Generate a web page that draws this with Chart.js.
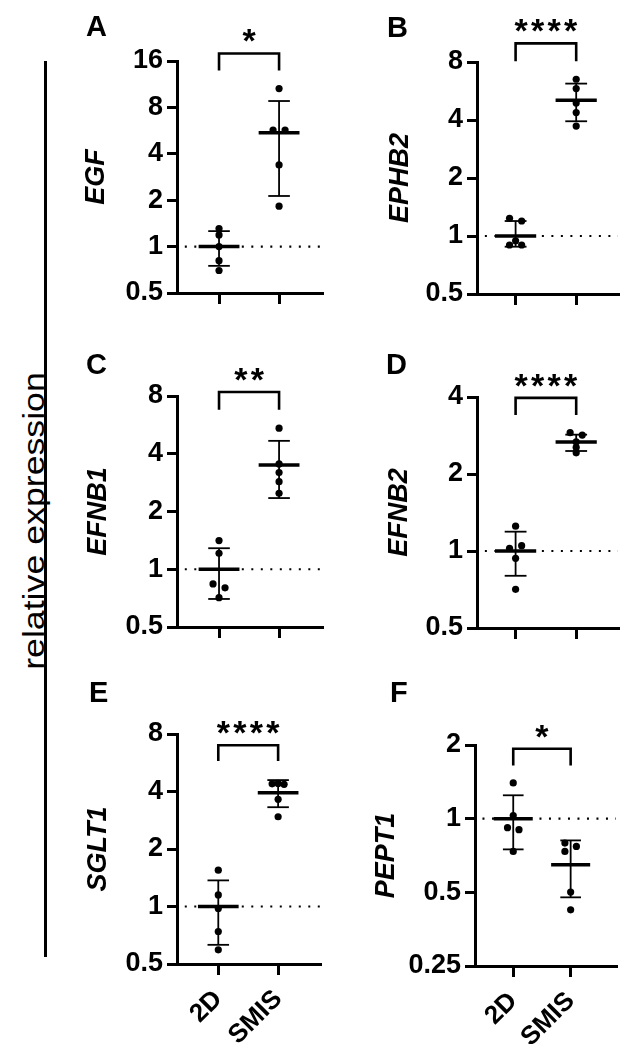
<!DOCTYPE html>
<html>
<head>
<meta charset="utf-8">
<title>relative expression</title>
<script src="https://cdn.jsdelivr.net/npm/chart.js@4.4.1/dist/chart.umd.min.js"></script>
<style>
  body { margin: 0; background: #fff; }
  #page { position: relative; width: 620px; height: 1044px; overflow: hidden; background: #fff; }
  canvas { position: absolute; }
  .letter { position: absolute; font: bold 29px "Liberation Sans", Arial, sans-serif; line-height: 29px; color: #000; }
  #bigline { position: absolute; left: 43.5px; top: 61px; width: 3px; height: 896px; background: #000; }
  #ylabel { position: absolute; left: -168px; top: 506px; width: 400px; height: 30px; line-height: 30px;
            text-align: center; font: 30px "Liberation Sans", Arial, sans-serif; color: #000;
            transform: rotate(-90deg) scaleX(1.19); }
</style>
</head>
<body>
<div id="page">
  <div id="bigline"></div>
  <div id="ylabel">relative expression</div>
  <canvas id="cA"></canvas>
  <canvas id="cB"></canvas>
  <canvas id="cC"></canvas>
  <canvas id="cD"></canvas>
  <canvas id="cE"></canvas>
  <canvas id="cF"></canvas>
</div>
<script>
const FONT = '"Liberation Sans", Arial, sans-serif';
Chart.defaults.font.family = FONT;
Chart.defaults.color = '#000';

// groups on the x axis
const groups = ['2D', 'SMIS'];

// ---- A: EGF ----
const egf2D = [1.31, 1.19, 1.00, 0.81, 0.70];
const egfSMIS = [10.6, 5.7, 5.7, 3.39, 1.83];
const egfJitter = [[0, 0, 0, 0, 0], [0, -1, 1, 0, 0]];
const egfMean = [1.0, 5.47];
const egfLow = [0.75, 2.13];
const egfHigh = [1.26, 8.8];
const egfTicks = [0.5, 1, 2, 4, 8, 16];
const egfBracket = [13.9, 17.9];

// ---- B: EPHB2 ----
const ephb2D = [1.235, 1.196, 0.945, 0.898, 0.898];
const ephbSMIS = [6.51, 5.82, 4.90, 4.37, 3.72];
const ephbJitter = [[-1, 1, 0, -1, 1], [0, 0, 0, 0, 0]];
const ephbMean = [1.0, 5.07];
const ephbLow = [0.88, 3.94];
const ephbHigh = [1.196, 6.18];
const ephbTicks = [0.5, 1, 2, 4, 8];
const ephbBracket = [8.07, 10.0];

// ---- C: EFNB1 ----
const efnb1_2D = [1.41, 1.21, 0.838, 0.80, 0.711];
const efnb1SMIS = [5.44, 3.54, 3.19, 2.86, 2.49];
const efnb1Jitter = [[0, 0, -1, 1, 0], [0, 0, 0, 0, 0]];
const efnb1Mean = [1.0, 3.50];
const efnb1Low = [0.70, 2.35];
const efnb1High = [1.287, 4.67];
const efnb1Ticks = [0.5, 1, 2, 4, 8];
const efnb1Bracket = [6.78, 8.39];

// ---- D: EFNB2 ----
const efnb2_2D = [1.25, 1.049, 1.024, 0.936, 0.708];
const efnb2SMIS = [2.90, 2.84, 2.67, 2.54, 2.42];
const efnb2Jitter = [[0, 1, -1, 0, 0], [-1, 1, 0, 0, 0]];
const efnb2Mean = [1.0, 2.67];
const efnb2Low = [0.80, 2.46];
const efnb2High = [1.19, 2.85];
const efnb2Ticks = [0.5, 1, 2, 4];
const efnb2Bracket = [3.40, 3.97];

// ---- E: SGLT1 ----
const sglt2D = [1.55, 1.15, 0.976, 0.74, 0.593];
const sgltSMIS = [4.39, 4.41, 4.36, 3.64, 2.95];
const sgltJitter = [[0, 0, 0, 0, 0], [-1, 0, 1, 0, 0]];
const sgltMean = [1.0, 3.94];
const sgltLow = [0.63, 3.31];
const sgltHigh = [1.37, 4.59];
const sgltTicks = [0.5, 1, 2, 4, 8];
const sgltBracket = [5.77, 6.99];

// ---- F: PEPT1 ----
const pept2D = [1.40, 1.03, 0.919, 0.902, 0.735];
const peptSMIS = [0.795, 0.770, 0.735, 0.501, 0.424];
const peptJitter = [[0, 0, -1, 1, 0], [-1, 1, -1, 0, 0]];
const peptMean = [1.0, 0.648];
const peptLow = [0.749, 0.477];
const peptHigh = [1.246, 0.815];
const peptTicks = [0.25, 0.5, 1, 2];
const peptBracket = [1.65, 1.93];

const panels = [
  { id: 'cA', letter: 'A', gene: 'EGF', stars: '*', vals: [egf2D, egfSMIS], jit: egfJitter, mean: egfMean, low: egfLow, high: egfHigh, ticks: egfTicks, bracket: egfBracket,
    left: 60, top: 0, w: 266, h: 333, yw: 117, xh: 40, padTop: 61, xMin: 0.30, xMax: 2.715, titlePad: 20, showX: false, lx: 86, ly: 12 },
  { id: 'cB', letter: 'B', gene: 'EPHB2', stars: '****', vals: [ephb2D, ephbSMIS], jit: ephbJitter, mean: ephbMean, low: ephbLow, high: ephbHigh, ticks: ephbTicks, bracket: ephbBracket,
    left: 360, top: 0, w: 262, h: 334, yw: 117, xh: 40, padTop: 62, xMin: 0.363, xMax: 2.69, titlePad: 24, showX: false, lx: 387, ly: 13 },
  { id: 'cC', letter: 'C', gene: 'EFNB1', stars: '**', vals: [efnb1_2D, efnb1SMIS], jit: efnb1Jitter, mean: efnb1Mean, low: efnb1Low, high: efnb1High, ticks: efnb1Ticks, bracket: efnb1Bracket,
    left: 60, top: 335, w: 266, h: 332, yw: 117, xh: 40, padTop: 61, xMin: 0.30, xMax: 2.715, titlePad: 22, showX: false, lx: 86, ly: 350 },
  { id: 'cD', letter: 'D', gene: 'EFNB2', stars: '****', vals: [efnb2_2D, efnb2SMIS], jit: efnb2Jitter, mean: efnb2Mean, low: efnb2Low, high: efnb2High, ticks: efnb2Ticks, bracket: efnb2Bracket,
    left: 360, top: 335, w: 262, h: 333, yw: 117, xh: 40, padTop: 62, xMin: 0.363, xMax: 2.69, titlePad: 23, showX: false, lx: 386, ly: 350 },
  { id: 'cE', letter: 'E', gene: 'SGLT1', stars: '****', vals: [sglt2D, sgltSMIS], jit: sgltJitter, mean: sgltMean, low: sgltLow, high: sgltHigh, ticks: sgltTicks, bracket: sgltBracket,
    left: 60, top: 673, w: 264, h: 371, yw: 117, xh: 80, padTop: 61, xMin: 0.31, xMax: 2.70, titlePad: 22, showX: true, lx: 89, ly: 678 },
  { id: 'cF', letter: 'F', gene: 'PEPT1', stars: '*', vals: [pept2D, peptSMIS], jit: peptJitter, mean: peptMean, low: peptLow, high: peptHigh, ticks: peptTicks, bracket: peptBracket,
    left: 360, top: 684, w: 260, h: 360, yw: 115, xh: 78, padTop: 61, xMin: 0.334, xMax: 2.79, titlePad: 10, showX: true, lx: 390, ly: 678 }
];

function seg(points, width, extra) {
  return Object.assign({ data: points, showLine: true, pointRadius: 0, borderColor: '#000',
    borderWidth: width, fill: false, borderCapStyle: 'butt', borderJoinStyle: 'miter' }, extra || {});
}

// significance stars above the bracket
const starPlugin = {
  id: 'stars',
  afterDatasetsDraw(chart, args, opts) {
    const { ctx, scales } = chart;
    const cx = scales.x.getPixelForValue(1.5);
    const yTop = scales.y.getPixelForValue(opts.at);
    const n = opts.text.length;
    ctx.save();
    ctx.font = 'bold 34px ' + FONT;
    ctx.fillStyle = '#000';
    ctx.textAlign = 'center';
    ctx.textBaseline = 'alphabetic';
    for (let i = 0; i < n; i++) {
      ctx.fillText(opts.text[i], cx + (i - (n - 1) / 2) * 16.5, yTop - 1);
    }
    ctx.restore();
  }
};

panels.forEach(p => {
  const page = document.getElementById('page');
  const lab = document.createElement('div');
  lab.className = 'letter';
  lab.textContent = p.letter;
  lab.style.left = p.lx + 'px';
  lab.style.top = p.ly + 'px';
  page.appendChild(lab);

  const cv = document.getElementById(p.id);
  cv.width = p.w; cv.height = p.h;
  cv.style.width = p.w + 'px'; cv.style.height = p.h + 'px';
  cv.style.left = p.left + 'px'; cv.style.top = p.top + 'px';

  const dots = [];
  p.vals.forEach((vals, g) => vals.forEach((v, i) => dots.push({ x: g + 1 + p.jit[g][i] * 0.1, y: v })));

  const datasets = [{ data: dots, pointRadius: 3.6, pointBackgroundColor: '#000', pointBorderWidth: 0, showLine: false }];
  p.mean.forEach((m, g) => {
    const c = g + 1;
    datasets.push(seg([{ x: c - 0.34, y: m }, { x: c + 0.34, y: m }], 3.5));
    datasets.push(seg([{ x: c, y: p.low[g] }, { x: c, y: p.high[g] }], 1.8));
    datasets.push(seg([{ x: c - 0.18, y: p.low[g] }, { x: c + 0.18, y: p.low[g] }], 1.8));
    datasets.push(seg([{ x: c - 0.18, y: p.high[g] }, { x: c + 0.18, y: p.high[g] }], 1.8));
  });
  datasets.push(seg([{ x: 1, y: p.bracket[0] }, { x: 1, y: p.bracket[1] }, { x: 2, y: p.bracket[1] }, { x: 2, y: p.bracket[0] }], 2.6, { clip: false }));
  datasets.push(seg([{ x: p.xMin + 0.13, y: 1 }, { x: p.xMax, y: 1 }], 2.2, { borderDash: [2, 7.5] }));

  new Chart(cv, {
    type: 'scatter',
    data: { datasets },
    plugins: [starPlugin],
    options: {
      responsive: false,
      animation: false,
      events: [],
      layout: { padding: { top: p.padTop, left: 0, right: 0, bottom: 0 } },
      plugins: {
        legend: { display: false },
        tooltip: { enabled: false },
        stars: { text: p.stars, at: p.bracket[1] }
      },
      scales: {
        x: {
          type: 'linear', min: p.xMin, max: p.xMax,
          afterBuildTicks: s => { s.ticks = [{ value: 1 }, { value: 2 }]; },
          afterFit: s => { s.height = p.xh; },
          ticks: { callback: v => p.showX ? groups[v - 1] : '', autoSkip: false, minRotation: 45, maxRotation: 45,
                   font: { size: 26, weight: 'bold' }, color: '#000', padding: 9 },
          grid: { drawOnChartArea: false, drawTicks: true, tickLength: 11, tickWidth: 3, lineWidth: 3, color: '#000' },
          border: { display: true, width: 3, color: '#000' }
        },
        y: {
          type: 'logarithmic', min: p.ticks[0], max: p.ticks[p.ticks.length - 1],
          afterBuildTicks: s => { s.ticks = p.ticks.map(v => ({ value: v })); },
          afterFit: s => { s.width = p.yw; },
          ticks: { callback: v => String(v), font: { size: 27, weight: 'bold' }, color: '#000', padding: 4 },
          grid: { drawOnChartArea: false, drawTicks: true, tickLength: 10, tickWidth: 3, lineWidth: 3, color: '#000' },
          border: { display: true, width: 3, color: '#000' },
          title: { display: true, text: p.gene, color: '#000', font: { size: 27, weight: 'bold', style: 'italic' },
                   padding: { top: p.titlePad, bottom: 0 } }
        }
      }
    }
  });
});
</script>
</body>
</html>
